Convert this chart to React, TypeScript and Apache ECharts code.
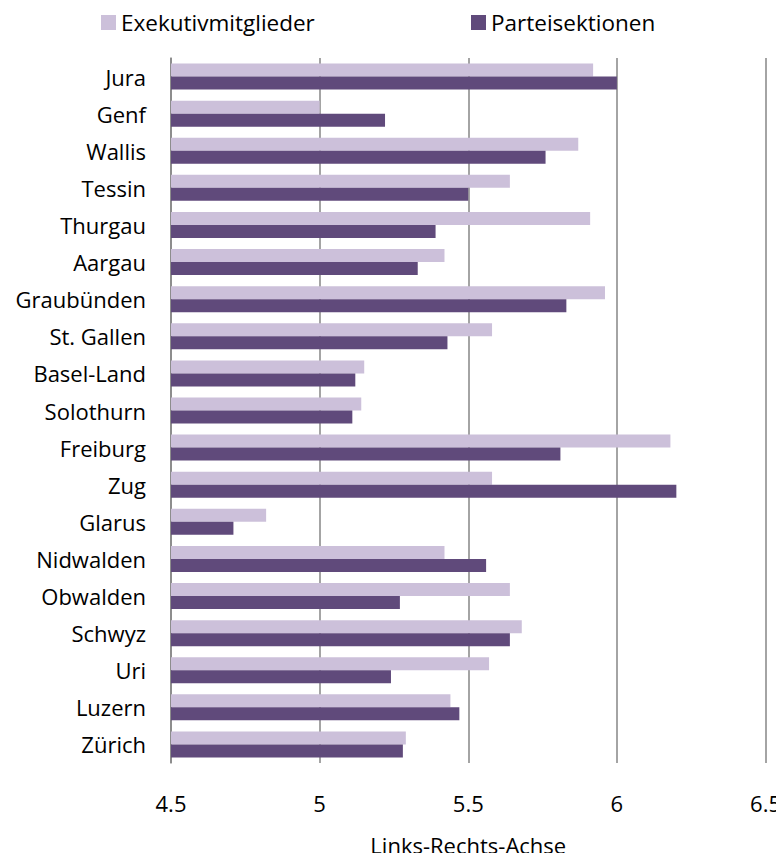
import React, { useEffect, useRef } from "react";
import * as echarts from "echarts";

const categories = [
  "Jura", "Genf", "Wallis", "Tessin", "Thurgau", "Aargau", "Graubünden", "St. Gallen",
  "Basel-Land", "Solothurn", "Freiburg", "Zug", "Glarus", "Nidwalden", "Obwalden",
  "Schwyz", "Uri", "Luzern", "Zürich",
];
const exekutivmitglieder = [
  5.92, 5.0, 5.87, 5.64, 5.91, 5.42, 5.96, 5.58, 5.15, 5.14, 6.18, 5.58, 4.82, 5.42, 5.64,
  5.68, 5.57, 5.44, 5.29,
];
const parteisektionen = [
  6.0, 5.22, 5.76, 5.5, 5.39, 5.33, 5.83, 5.43, 5.12, 5.11, 5.81, 6.2, 4.71, 5.56, 5.27,
  5.64, 5.24, 5.47, 5.28,
];
const seriesNames = ["Exekutivmitglieder", "Parteisektionen"];
const axisName = "Links-Rechts-Achse";

const FONT = "Open Sans";
const FS = 22;
const LIGHT = "#CCC0DA";
const DARK = "#604A7B";

export default function App() {
  const ref = useRef<HTMLDivElement>(null);
  useEffect(() => {
    if (!ref.current) return;
    const chart = echarts.init(ref.current, undefined, { renderer: "svg" });
    const legendBase = {
      top: 11,
      padding: 0,
      itemWidth: 15,
      itemHeight: 15,
      icon: "rect",
      textStyle: { fontFamily: FONT, fontSize: 22.5, color: "#000" },
    };
    chart.setOption({
      animation: false,
      backgroundColor: "#ffffff",
      textStyle: { fontFamily: FONT },
      legend: [
        { ...legendBase, data: [seriesNames[0]], left: 101 },
        { ...legendBase, data: [seriesNames[1]], left: 471 },
      ],
      grid: { left: 171, right: 16, top: 58, bottom: 95, containLabel: false },
      xAxis: {
        type: "value",
        min: 4.5,
        max: 6.5,
        interval: 0.5,
        name: axisName,
        nameLocation: "middle",
        nameGap: 71,
        nameTextStyle: { fontFamily: FONT, fontSize: FS, color: "#000" },
        axisLine: { show: false },
        axisTick: { show: false },
        axisLabel: { margin: 29, fontFamily: FONT, fontSize: FS, color: "#000" },
        splitLine: { show: true, lineStyle: { color: "#868686", width: 1.5 } },
      },
      yAxis: {
        type: "category",
        data: categories,
        inverse: true,
        axisLine: { show: true, lineStyle: { color: "#868686", width: 1.5 } },
        axisTick: { show: false },
        axisLabel: { margin: 25, fontFamily: FONT, fontSize: FS, color: "#000" },
      },
      series: [
        {
          name: seriesNames[0],
          type: "bar",
          data: exekutivmitglieder,
          itemStyle: { color: LIGHT },
          barWidth: 13,
          barGap: "0%",
        },
        {
          name: seriesNames[1],
          type: "bar",
          data: parteisektionen,
          itemStyle: { color: DARK },
          barWidth: 13,
          barGap: "0%",
        },
      ],
    });
    return () => chart.dispose();
  }, []);
  return <div ref={ref} style={{ width: 784, height: 861, margin: -8 }} />;
}
